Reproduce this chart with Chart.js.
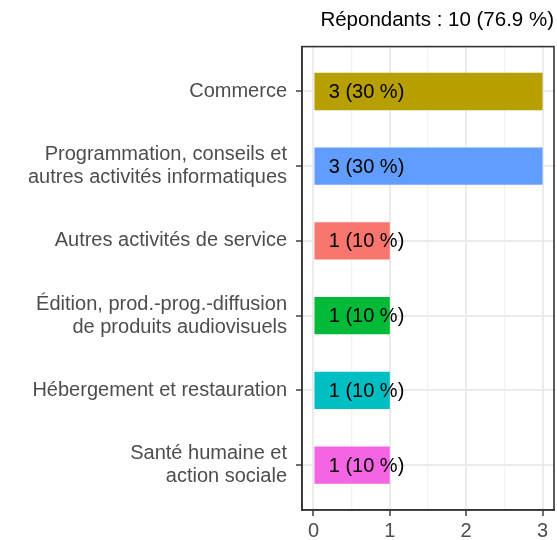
<!DOCTYPE html>
<html>
<head>
<meta charset="utf-8">
<script src="https://cdn.jsdelivr.net/npm/chart.js@4"></script>
<style>
  html, body { margin: 0; padding: 0; background: #fff; }
  #wrap { width: 557px; height: 540px; }
</style>
</head>
<body>
<div id="wrap"><canvas id="chart"></canvas></div>
<script>
// catégories (du haut vers le bas)
const categories = [
    ['Commerce'],
    ['Programmation, conseils et', 'autres activités informatiques'],
    ['Autres activités de service'],
    ['Édition, prod.-prog.-diffusion', 'de produits audiovisuels'],
    ['Hébergement et restauration'],
    ['Santé humaine et', 'action sociale']
];
const counts = [3, 3, 1, 1, 1, 1];
const percents = [30, 30, 10, 10, 10, 10];
const barColors = ['#B79F00', '#619CFF', '#F8766D', '#00BA38', '#00BFC4', '#F564E3'];
const xTicks = [0, 0.5, 1, 1.5, 2, 2.5, 3];
const titleText = 'Répondants : 10 (76.9 %)';

const FONT = 'Liberation Sans, Arial, Helvetica, sans-serif';

// cadre du panneau
const panelBorder = {
    id: 'panelBorder',
    afterDraw(chart) {
        const a = chart.chartArea;
        const ctx = chart.ctx;
        ctx.save();
        ctx.strokeStyle = '#333333';
        ctx.lineWidth = 1.6;
        ctx.strokeRect(a.left, a.top, a.right - a.left, a.bottom - a.top);
        ctx.restore();
    }
};

// étiquettes dans les barres
const barLabels = {
    id: 'barLabels',
    afterDatasetsDraw(chart) {
        const ctx = chart.ctx;
        const xs = chart.scales.x;
        const meta = chart.getDatasetMeta(0);
        ctx.save();
        ctx.font = '20px ' + FONT;
        ctx.fillStyle = '#000000';
        ctx.textAlign = 'left';
        ctx.textBaseline = 'middle';
        meta.data.forEach((bar, i) => {
            ctx.fillText(counts[i] + ' (' + percents[i] + ' %)', xs.getPixelForValue(0.2), bar.y + 1);
        });
        ctx.restore();
    }
};

const ctx = document.getElementById('chart').getContext('2d');
new Chart(ctx, {
    type: 'bar',
    data: {
        datasets: [{
            data: counts.map((v, i) => ({ x: v, y: i })),
            backgroundColor: barColors,
            borderWidth: 0,
            barPercentage: 0.5,
            categoryPercentage: 1
        }]
    },
    options: {
        indexAxis: 'y',
        responsive: true,
        maintainAspectRatio: false,
        animation: false,
        layout: { padding: { top: 0, right: 3, bottom: 0, left: 0 } },
        plugins: {
            legend: { display: false },
            tooltip: { enabled: false },
            title: {
                display: true,
                text: titleText,
                align: 'end',
                color: '#000000',
                font: { family: FONT, size: 20.5, weight: 'normal', lineHeight: 1.2 },
                padding: { top: 8, bottom: 14 }
            }
        },
        scales: {
            x: {
                type: 'linear',
                min: -0.15,
                max: 3.15,
                afterBuildTicks: (scale) => { scale.ticks = xTicks.map(v => ({ value: v })); },
                afterFit: (scale) => { scale.height = 30; },
                border: { display: true, color: '#333333', width: 1.6 },
                grid: {
                    color: (c) => Number.isInteger(c.tick.value) ? '#EBEBEB' : '#F2F2F2',
                    lineWidth: (c) => Number.isInteger(c.tick.value) ? 2 : 1.3,
                    tickColor: (c) => Number.isInteger(c.tick.value) ? '#333333' : 'rgba(0,0,0,0)',
                    tickLength: 6,
                    tickWidth: 1.4
                },
                ticks: {
                    color: '#4D4D4D',
                    font: { family: FONT, size: 20 },
                    padding: 3,
                    maxRotation: 0,
                    callback: (v) => Number.isInteger(v) ? String(v) : ''
                }
            },
            y: {
                type: 'linear',
                reverse: true,
                offset: false,
                min: -0.6,
                max: 5.6,
                afterBuildTicks: (scale) => { scale.ticks = categories.map((_, i) => ({ value: i })); },
                afterFit: (scale) => { scale.width = 302; },
                border: { display: true, color: '#333333', width: 1.6 },
                grid: {
                    offset: false,
                    color: '#EBEBEB',
                    lineWidth: 2,
                    tickColor: '#333333',
                    tickLength: 6,
                    tickWidth: 1.4
                },
                ticks: {
                    color: '#4D4D4D',
                    font: { family: FONT, size: 20, lineHeight: 1.15 },
                    padding: 9,
                    callback: (v) => categories[v]
                }
            }
        }
    },
    plugins: [panelBorder, barLabels]
});
</script>
</body>
</html>
